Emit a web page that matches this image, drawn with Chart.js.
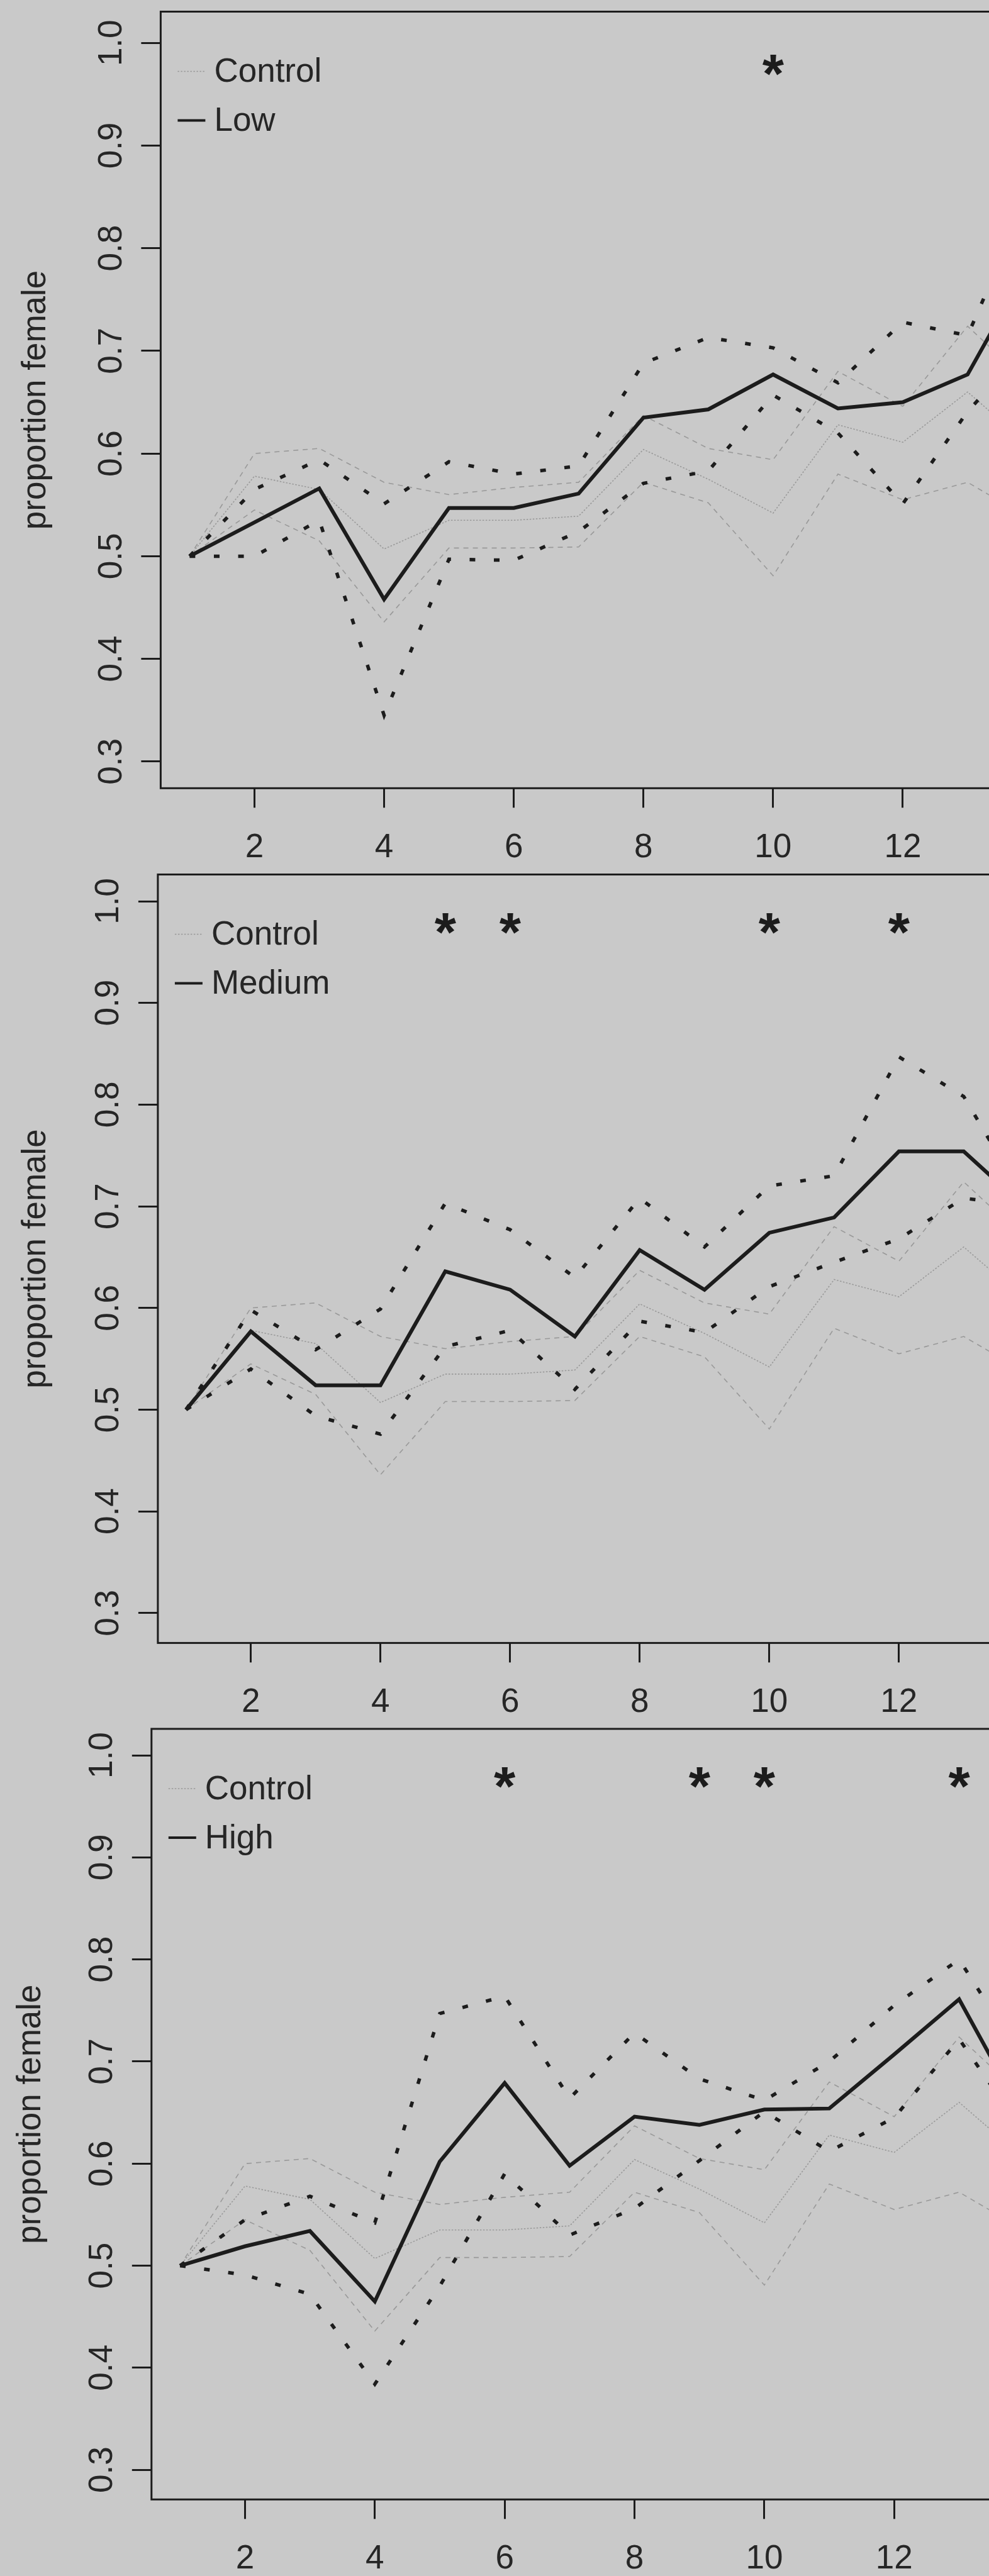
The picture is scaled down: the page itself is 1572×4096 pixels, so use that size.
<!DOCTYPE html>
<html>
<head>
<meta charset="utf-8">
<script src="https://cdn.jsdelivr.net/npm/chart.js@4.4.1/dist/chart.umd.min.js"></script>
<style>
  html, body { margin: 0; padding: 0; background: #c9c9c9; overflow: hidden; }
  body { width: 1572px; height: 4096px; position: relative; }
  canvas { position: absolute; left: 0; }
</style>
</head>
<body>
<canvas id="panelLow"></canvas>
<canvas id="panelMedium"></canvas>
<canvas id="panelHigh"></canvas>
<script>
// === Datos ===
const weeks = [1, 2, 3, 4, 5, 6, 7, 8, 9, 10, 11, 12, 13, 14];

const controlMean  = [0.500, 0.578, 0.565, 0.507, 0.535, 0.535, 0.539, 0.604, 0.575, 0.542, 0.628, 0.611, 0.660, 0.605];
const controlUpper = [0.500, 0.600, 0.605, 0.572, 0.560, 0.567, 0.572, 0.637, 0.605, 0.594, 0.680, 0.646, 0.724, 0.665];
const controlLower = [0.500, 0.545, 0.515, 0.436, 0.508, 0.508, 0.509, 0.572, 0.552, 0.481, 0.580, 0.555, 0.572, 0.535];

const lowMean  = [0.500, 0.533, 0.566, 0.458, 0.547, 0.547, 0.561, 0.635, 0.643, 0.677, 0.644, 0.650, 0.677, 0.790];
const lowUpper = [0.500, 0.565, 0.594, 0.551, 0.592, 0.580, 0.588, 0.688, 0.713, 0.703, 0.669, 0.728, 0.715, 0.860];
const lowLower = [0.500, 0.500, 0.535, 0.345, 0.497, 0.496, 0.524, 0.571, 0.583, 0.657, 0.620, 0.551, 0.641, 0.710];

const mediumMean  = [0.500, 0.577, 0.524, 0.524, 0.636, 0.618, 0.572, 0.657, 0.618, 0.674, 0.689, 0.754, 0.754, 0.696];
const mediumUpper = [0.500, 0.598, 0.559, 0.599, 0.703, 0.677, 0.630, 0.708, 0.660, 0.720, 0.730, 0.847, 0.808, 0.700];
const mediumLower = [0.500, 0.540, 0.494, 0.476, 0.562, 0.578, 0.520, 0.587, 0.576, 0.621, 0.645, 0.668, 0.708, 0.700];

const highMean  = [0.500, 0.519, 0.534, 0.465, 0.602, 0.679, 0.598, 0.646, 0.638, 0.653, 0.654, 0.707, 0.761, 0.645];
const highUpper = [0.500, 0.545, 0.568, 0.542, 0.747, 0.764, 0.664, 0.728, 0.683, 0.662, 0.700, 0.755, 0.800, 0.700];
const highLower = [0.500, 0.491, 0.472, 0.384, 0.480, 0.590, 0.530, 0.556, 0.603, 0.651, 0.612, 0.645, 0.722, 0.630];

// semanas con diferencia significativa (*)
const lowStars = [10];
const mediumStars = [5, 6, 10, 12];
const highStars = [6, 9, 10, 13];
const starLevel = 0.983;

const xTickValues = [2, 4, 6, 8, 10, 12];
const xTickLabels = ['2', '4', '6', '8', '10', '12'];
const yTickValues = [0.3, 0.4, 0.5, 0.6, 0.7, 0.8, 0.9, 1.0];
const yTickLabels = ['0.3', '0.4', '0.5', '0.6', '0.7', '0.8', '0.9', '1.0'];
const yTitle = 'proportion female';
const controlName = 'Control';

// === Estilo ===
const ink = '#1c1c1c';
const textInk = '#262626';
const greyInk = '#999999';
const family = '"Liberation Sans", Arial, Helvetica, sans-serif';
const fontSize = 53;
const starSize = 88;

function series(values, color, width, dash) {
    return {
        data: weeks.map((w, i) => ({ x: w, y: values[i] })),
        borderColor: color,
        borderWidth: width,
        borderDash: dash,
        borderCapStyle: 'butt',
        borderJoinStyle: 'miter',
        pointRadius: 0,
        tension: 0,
        fill: false
    };
}

// caja, etiquetas del eje y giradas, asteriscos y leyenda
function decor(p) {
    return {
        id: 'decor',
        afterDraw(chart) {
            const { ctx, chartArea: a, scales: { x, y } } = chart;
            ctx.save();
            ctx.strokeStyle = ink;
            ctx.lineWidth = 3;
            ctx.strokeRect(a.left, a.top, a.right - a.left + 20, a.bottom - a.top);

            ctx.fillStyle = textInk;
            ctx.font = fontSize + 'px ' + family;
            ctx.textAlign = 'center';
            ctx.textBaseline = 'alphabetic';
            yTickValues.forEach((v, i) => {
                ctx.save();
                ctx.translate(a.left - 62.5, y.getPixelForValue(v));
                ctx.rotate(-Math.PI / 2);
                ctx.fillText(yTickLabels[i], 0, 0);
                ctx.restore();
            });

            ctx.fillStyle = ink;
            ctx.font = 'bold ' + starSize + 'px ' + family;
            p.stars.forEach(w => {
                ctx.fillText('*', x.getPixelForValue(w), y.getPixelForValue(starLevel) + 0.58 * starSize);
            });

            // leyenda
            ctx.strokeStyle = greyInk;
            ctx.lineWidth = 1.6;
            ctx.setLineDash([2.5, 2.5]);
            ctx.beginPath();
            ctx.moveTo(a.left + 27, a.top + 95);
            ctx.lineTo(a.left + 71, a.top + 95);
            ctx.stroke();
            ctx.strokeStyle = ink;
            ctx.lineWidth = 4;
            ctx.setLineDash([]);
            ctx.beginPath();
            ctx.moveTo(a.left + 27, a.top + 173);
            ctx.lineTo(a.left + 71, a.top + 173);
            ctx.stroke();
            ctx.fillStyle = textInk;
            ctx.font = fontSize + 'px ' + family;
            ctx.textAlign = 'left';
            ctx.textBaseline = 'middle';
            ctx.fillText(controlName, a.left + 85, a.top + 97);
            ctx.fillText(p.name, a.left + 85, a.top + 175);
            ctx.restore();
        }
    };
}

const panels = [
    { id: 'panelLow', name: 'Low', mean: lowMean, upper: lowUpper, lower: lowLower, stars: lowStars,
      left: 255.4, top: 18.5, bottom: 1253.3, xMin: 0.554, xMax: 13.33, yMin: 0.274, yMax: 1.0305, titlePad: 26 },
    { id: 'panelMedium', name: 'Medium', mean: mediumMean, upper: mediumUpper, lower: mediumLower, stars: mediumStars,
      left: 250.9, top: 1390.5, bottom: 2612.4, xMin: 0.565, xMax: 13.39, yMin: 0.2706, yMax: 1.0263, titlePad: 26 },
    { id: 'panelHigh', name: 'High', mean: highMean, upper: highUpper, lower: highLower, stars: highStars,
      left: 240.8, top: 2749.0, bottom: 3974.3, xMin: 0.56, xMax: 13.46, yMin: 0.271, yMax: 1.0259, titlePad: 18 }
];

panels.forEach(p => {
    const canvas = document.getElementById(p.id);
    const canvasTop = Math.floor(p.top) - 12;
    const padTop = p.top - canvasTop;
    const height = Math.ceil(p.bottom) + 125 - canvasTop;
    const xAxisH = height - padTop - (p.bottom - p.top);
    canvas.width = 1572;
    canvas.height = height;
    canvas.style.top = canvasTop + 'px';

    const tickGrid = { drawOnChartArea: false, drawTicks: true, tickLength: 31, tickWidth: 3, tickColor: ink };

    new Chart(canvas, {
        type: 'line',
        data: {
            datasets: [
                series(p.mean, ink, 6, []),
                series(p.upper, ink, 5.5, [9, 29.6]),
                series(p.lower, ink, 5.5, [9, 29.6]),
                series(controlMean, greyInk, 1.6, [2.5, 2.5]),
                series(controlUpper, greyInk, 1.6, [8, 7]),
                series(controlLower, greyInk, 1.6, [8, 7])
            ]
        },
        options: {
            responsive: false,
            animation: false,
            events: [],
            layout: { padding: { top: padTop, left: 0, right: 0, bottom: 0 } },
            plugins: { legend: { display: false }, tooltip: { enabled: false } },
            scales: {
                x: {
                    type: 'linear', min: p.xMin, max: p.xMax,
                    afterBuildTicks: s => { s.ticks = xTickValues.map(v => ({ value: v })); },
                    afterFit: s => { s.height = xAxisH; },
                    grid: tickGrid,
                    border: { display: false },
                    ticks: {
                        font: { size: fontSize, family: family }, color: textInk, padding: 32,
                        maxRotation: 0, autoSkip: false,
                        callback: (v, i) => xTickLabels[i]
                    }
                },
                y: {
                    type: 'linear', min: p.yMin, max: p.yMax,
                    afterBuildTicks: s => { s.ticks = yTickValues.map(v => ({ value: v })); },
                    afterFit: s => { s.width = p.left; },
                    grid: tickGrid,
                    border: { display: false },
                    ticks: { display: false },
                    title: {
                        display: true, text: yTitle, color: textInk,
                        font: { size: fontSize, family: family },
                        padding: { top: p.titlePad, bottom: 0 }
                    }
                }
            }
        },
        plugins: [decor(p)]
    });
});
</script>
</body>
</html>
